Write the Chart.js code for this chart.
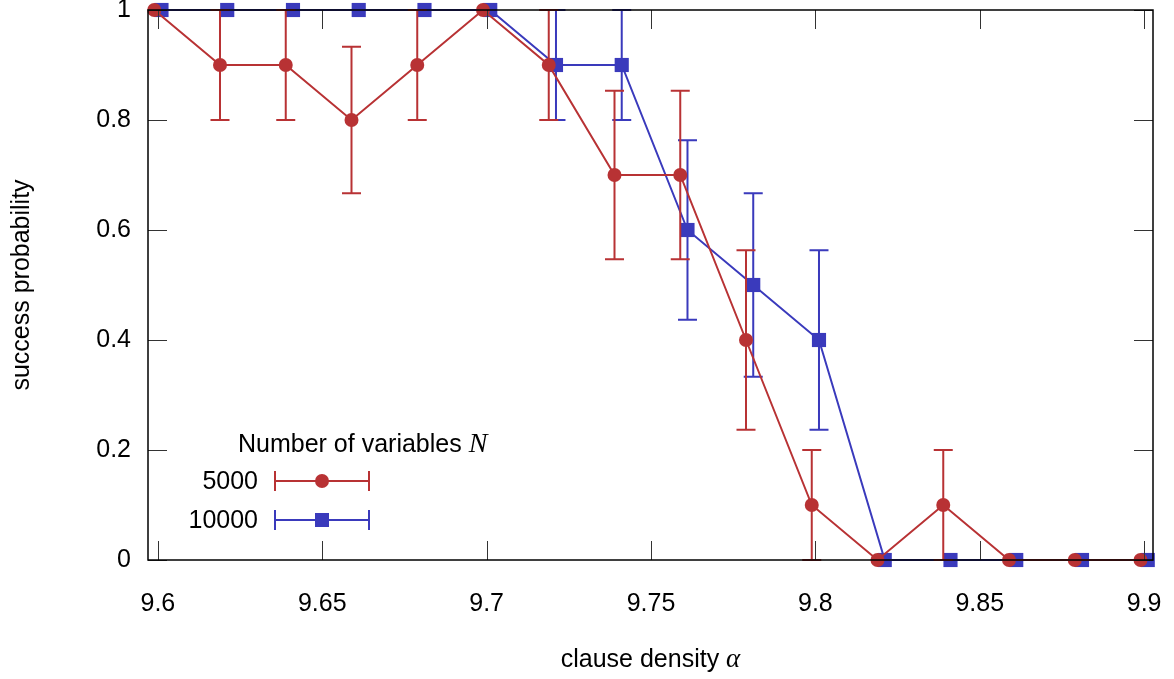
<!DOCTYPE html>
<html>
<head>
<meta charset="utf-8">
<script src="https://cdn.jsdelivr.net/npm/chart.js@4/dist/chart.umd.min.js"></script>
<style>
  html, body { margin: 0; padding: 0; background: #fff; }
  #wrap { width: 1174px; height: 679px; }
</style>
</head>
<body>
<div id="wrap"><canvas id="chart" width="1174" height="679"></canvas></div>
<script>
const alphas = [9.6, 9.62, 9.64, 9.66, 9.68, 9.7, 9.72, 9.74, 9.76, 9.78, 9.8, 9.82, 9.84, 9.86, 9.88, 9.9];

const p5000 = [1, 0.9, 0.9, 0.8, 0.9, 1, 0.9, 0.7, 0.7, 0.4, 0.1, 0, 0.1, 0, 0, 0];
const lo5000 = [1, 0.8, 0.8, 0.667, 0.8, 1, 0.8, 0.547, 0.547, 0.237, 0, 0, 0, 0, 0, 0];
const hi5000 = [1, 1, 1, 0.933, 1, 1, 1, 0.853, 0.853, 0.563, 0.2, 0, 0.2, 0, 0, 0];

const p10000 = [1, 1, 1, 1, 1, 1, 0.9, 0.9, 0.6, 0.5, 0.4, 0, 0, 0, 0, 0];
const lo10000 = [1, 1, 1, 1, 1, 1, 0.8, 0.8, 0.437, 0.333, 0.237, 0, 0, 0, 0, 0];
const hi10000 = [1, 1, 1, 1, 1, 1, 1, 1, 0.763, 0.667, 0.563, 0, 0, 0, 0, 0];

const xTicks = [9.6, 9.65, 9.7, 9.75, 9.8, 9.85, 9.9];
const yTicks = [0, 0.2, 0.4, 0.6, 0.8, 1];

const RED = "rgb(184, 50, 52)";
const BLUE = "rgb(58, 58, 188)";
const FONT = "'Liberation Sans', Arial, sans-serif";
const SERIF = "'Liberation Serif', 'Times New Roman', serif";

function points(values, lo, hi, shift) {
  return values.map((v, i) => ({ x: alphas[i] + shift, y: v, lo: lo[i], hi: hi[i] }));
}

// zero the label overflow padding so the plot box sits where the reference has it
function noOverflow(s) {
  s.paddingTop = 0; s.paddingBottom = 0; s.paddingLeft = 0; s.paddingRight = 0;
}

const errorBars = {
  id: "errorBars",
  beforeDatasetDraw(chart, args) {
    const ds = chart.data.datasets[args.index];
    const xs = chart.scales.x, ys = chart.scales.y;
    const ctx = chart.ctx;
    ctx.save();
    ctx.strokeStyle = ds.borderColor;
    ctx.lineWidth = 2;
    ds.data.forEach((p) => {
      if (p.hi === p.lo) return;
      const x = xs.getPixelForValue(p.x);
      const yTop = ys.getPixelForValue(p.hi);
      const yBot = ys.getPixelForValue(p.lo);
      ctx.beginPath();
      ctx.moveTo(x, yTop); ctx.lineTo(x, yBot);
      ctx.moveTo(x - 9.5, yTop); ctx.lineTo(x + 9.5, yTop);
      ctx.moveTo(x - 9.5, yBot); ctx.lineTo(x + 9.5, yBot);
      ctx.stroke();
    });
    ctx.restore();
  },
};

function mixedText(ctx, parts, x, y, align) {
  let total = 0;
  parts.forEach((p) => { ctx.font = p.font; total += ctx.measureText(p.text).width; });
  let cx = align === "center" ? x - total / 2 : x;
  ctx.textAlign = "left";
  parts.forEach((p) => {
    ctx.font = p.font;
    ctx.fillText(p.text, cx, y);
    cx += ctx.measureText(p.text).width;
  });
}

const frame = {
  id: "frame",
  afterDraw(chart) {
    const { ctx, chartArea: a } = chart;
    const xs = chart.scales.x, ys = chart.scales.y;
    ctx.save();
    // inward ticks on all four sides
    ctx.strokeStyle = "#333";
    ctx.lineWidth = 1;
    ctx.beginPath();
    xTicks.forEach((t) => {
      const x = Math.round(xs.getPixelForValue(t)) + 0.5;
      ctx.moveTo(x, a.bottom); ctx.lineTo(x, a.bottom - 19);
      ctx.moveTo(x, a.top); ctx.lineTo(x, a.top + 19);
    });
    yTicks.forEach((t) => {
      const y = Math.round(ys.getPixelForValue(t)) + 0.5;
      ctx.moveTo(a.left, y); ctx.lineTo(a.left + 19, y);
      ctx.moveTo(a.right, y); ctx.lineTo(a.right - 19, y);
    });
    ctx.stroke();
    ctx.strokeStyle = "#000";
    ctx.lineWidth = 1.5;
    ctx.strokeRect(a.left, a.top, a.right - a.left, a.bottom - a.top);

    // axis titles
    ctx.fillStyle = "#000";
    ctx.textBaseline = "alphabetic";
    mixedText(ctx, [
      { text: "clause density ", font: "25px " + FONT },
      { text: "α", font: "italic 27px " + SERIF },
    ], (a.left + a.right) / 2, 667, "center");
    ctx.save();
    ctx.translate(29, (a.top + a.bottom) / 2);
    ctx.rotate(-Math.PI / 2);
    ctx.font = "25px " + FONT;
    ctx.textAlign = "center";
    ctx.fillText("success probability", 0, 0);
    ctx.restore();

    // legend
    mixedText(ctx, [
      { text: "Number of variables ", font: "25px " + FONT },
      { text: "N", font: "italic 28px " + SERIF },
    ], 238, 452, "left");
    const rows = [
      { label: "5000", color: RED, style: "circle", y: 481 },
      { label: "10000", color: BLUE, style: "rect", y: 520 },
    ];
    rows.forEach((r) => {
      ctx.font = "25px " + FONT;
      ctx.textAlign = "right";
      ctx.textBaseline = "middle";
      ctx.fillStyle = "#000";
      ctx.fillText(r.label, 258, r.y + 1);
      ctx.strokeStyle = r.color;
      ctx.lineWidth = 2;
      ctx.beginPath();
      ctx.moveTo(275, r.y); ctx.lineTo(369, r.y);
      ctx.moveTo(275, r.y - 10); ctx.lineTo(275, r.y + 10);
      ctx.moveTo(369, r.y - 10); ctx.lineTo(369, r.y + 10);
      ctx.stroke();
      ctx.fillStyle = r.color;
      if (r.style === "circle") {
        ctx.beginPath();
        ctx.arc(322, r.y, 7, 0, Math.PI * 2);
        ctx.fill();
      } else {
        ctx.fillRect(315, r.y - 7, 14, 14);
      }
    });
    ctx.restore();
  },
};

new Chart(document.getElementById("chart"), {
  type: "line",
  data: {
    datasets: [
      {
        label: "5000",
        data: points(p5000, lo5000, hi5000, -0.0011),
        borderColor: RED,
        backgroundColor: RED,
        borderWidth: 2,
        pointStyle: "circle",
        pointRadius: 7,
        pointBorderWidth: 0,
        clip: false,
      },
      {
        label: "10000",
        data: points(p10000, lo10000, hi10000, 0.0011),
        borderColor: BLUE,
        backgroundColor: BLUE,
        borderWidth: 2,
        pointStyle: "rect",
        pointRadius: 10,
        pointBorderWidth: 0,
        clip: false,
      },
    ],
  },
  options: {
    responsive: false,
    animation: false,
    layout: { padding: { top: 7, right: 21, left: 0, bottom: 0 } },
    plugins: { legend: { display: false }, tooltip: { enabled: false } },
    scales: {
      x: {
        type: "linear",
        min: 9.597,
        max: 9.9027,
        afterBuildTicks: (s) => { s.ticks = xTicks.map((v) => ({ value: v })); },
        afterFit: (s) => { s.height = 119; noOverflow(s); },
        grid: { display: false, drawTicks: false },
        border: { display: false },
        ticks: {
          padding: 29,
          color: "#000",
          font: { family: FONT, size: 25 },
          callback: (v) => String(Math.round(v * 100) / 100),
        },
      },
      y: {
        min: 0,
        max: 1,
        afterBuildTicks: (s) => { s.ticks = yTicks.map((v) => ({ value: v })); },
        afterFit: (s) => { s.width = 148; noOverflow(s); },
        grid: { display: false, drawTicks: false },
        border: { display: false },
        ticks: {
          padding: 17,
          color: "#000",
          font: { family: FONT, size: 25 },
          callback: (v) => String(Math.round(v * 10) / 10),
        },
      },
    },
  },
  plugins: [errorBars, frame],
});
</script>
</body>
</html>
